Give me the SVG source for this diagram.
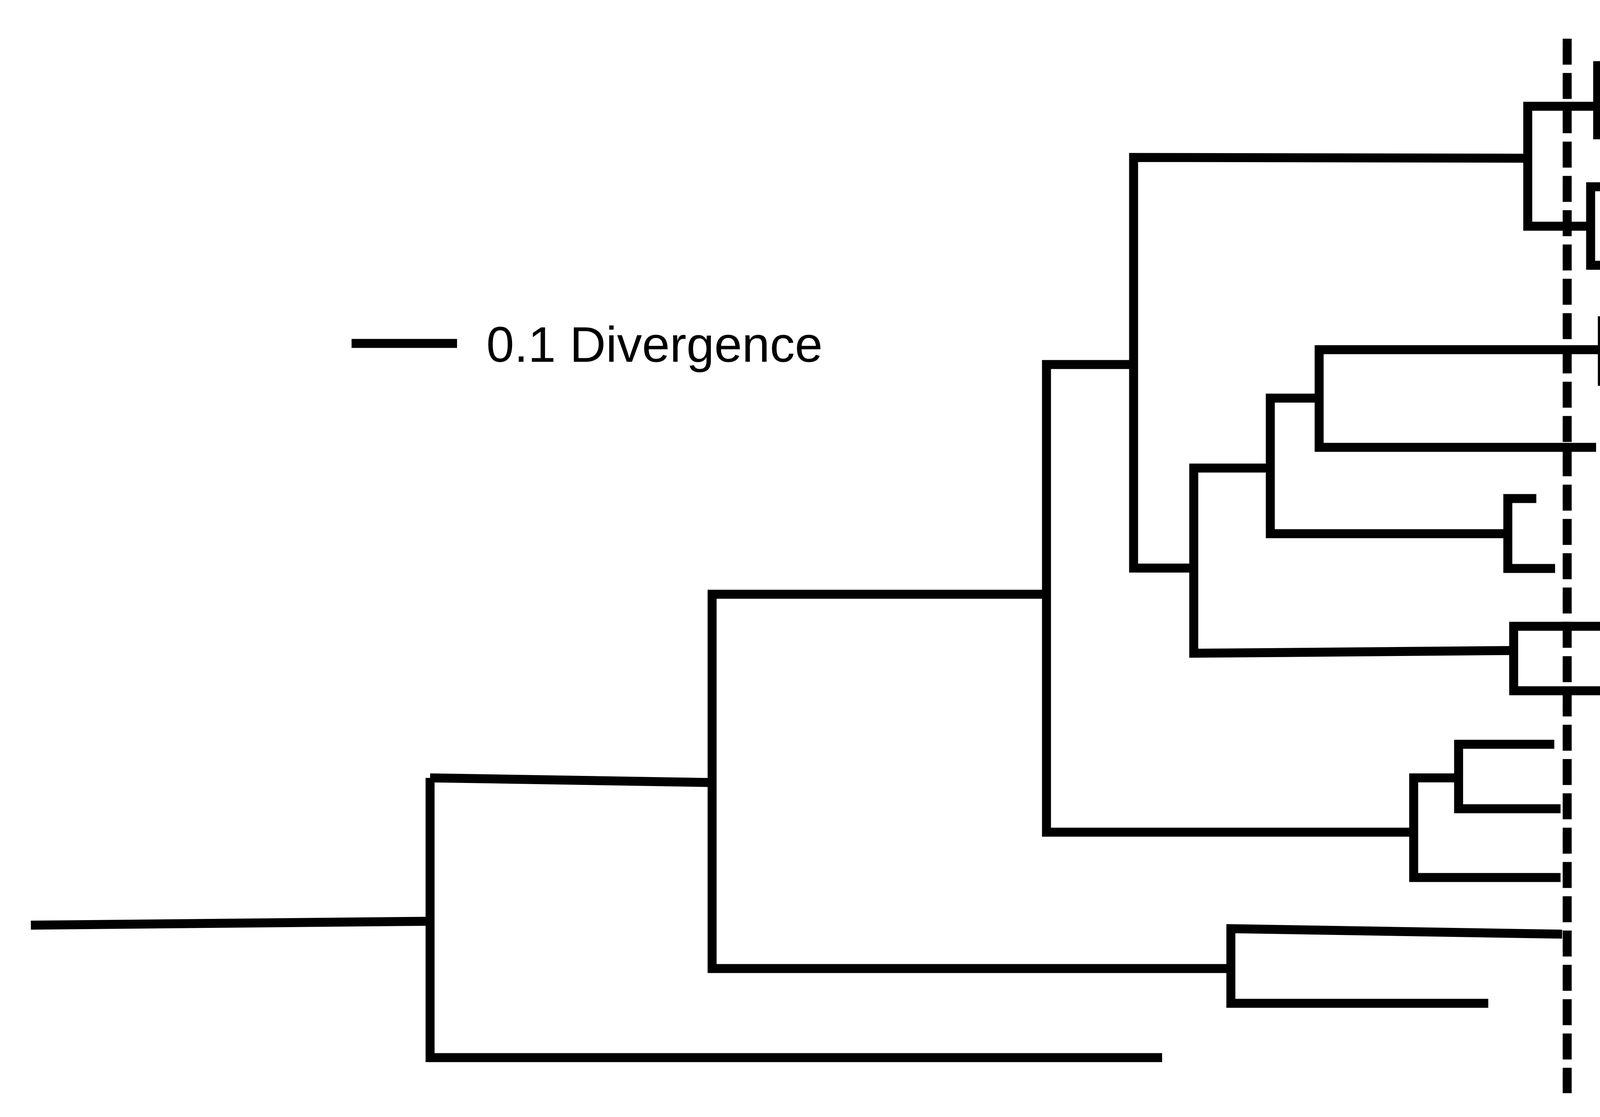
<svg xmlns="http://www.w3.org/2000/svg" width="6153" height="2859" viewBox="0 0 6153 2859">
<style>
.br{fill:none;stroke:#000;stroke-width:23;stroke-linejoin:miter;stroke-linecap:butt}
.bk{fill:none;stroke:#000;stroke-width:17;stroke-linejoin:round;stroke-linecap:butt}
.dash{fill:none;stroke:#000;stroke-width:23;stroke-dasharray:66.5 21.3}
.lb{font-family:"Liberation Sans",Arial,sans-serif;font-size:128px;fill:#000}
.it{font-family:"Liberation Sans",Arial,sans-serif;font-size:128px;font-style:italic;fill:#000}
</style>
<rect width="6153" height="2859" fill="#fff"/>
<g id="connectors">
<line class="br" x1="79" y1="2368" x2="1101" y2="2358"/>
<path class="br" d="M1101,1991 V2707 H2975"/>
<line class="br" x1="1101" y1="1991" x2="1823" y2="2003"/>
<path class="br" d="M2679,1521 H1823 V2479 H3151"/>
<path class="br" d="M2902,933 H2679 V2130 H3619"/>
<path class="br" d="M3911,405 L2902,403 V1454 H3056"/>
<path class="br" d="M3252,1198 H3056 V1672 L3875,1665"/>
<path class="br" d="M3377,1019 H3252 V1366 H3860"/>
<path class="br" d="M4102,895 H3377 V1145 H4086"/>
<path class="br" d="M4213,821 H4102 V976 H4213"/>
<path class="br" d="M3933,1276 H3860 V1455 H3981"/>
<path class="br" d="M4200,1603 H3875 V1768 H4442"/>
<path class="br" d="M4090,272 H3911 V579 H4072"/>
<path class="br" d="M4212,168 H4090 V345 H4180"/>
<path class="br" d="M4156,478 H4072 V679 H4156"/>
<path class="br" d="M3734,1991 H3619 V2246 H3995"/>
<path class="br" d="M3979,1905 H3734 V2070 H3995"/>
<path class="br" d="M3999,2391 L3151,2377 V2568 H3810"/>
<line class="dash" x1="4012" y1="99" x2="4012" y2="2798"/>
</g>
<g id="scale">
<line class="br" x1="900" y1="879" x2="1170" y2="879"/>
<text class="lb" x="1245" y="926">0.1 Divergence</text>
</g>
<g id="leaves">
<g id="n-hsv1"><text class="lb" x="4468" y="234">HSV-1</text></g>
<g id="n-hsv2"><text class="lb" x="4468" y="392">HSV-2</text></g>
<g id="n-sa8"><text class="lb" x="4468" y="550">SA8</text></g>
<g id="n-hvb"><text class="lb" x="4468" y="709">HVB</text></g>
<g id="n-bhv1"><text class="lb" x="4468" y="867">BHV-1</text></g>
<g id="n-bhv5"><text class="lb" x="4468" y="1024">BHV-5</text></g>
<g id="n-prv"><text class="lb" x="4468" y="1182">PRV</text></g>
<g id="n-ehv1"><text class="lb" x="4468" y="1340">EHV-1</text></g>
<g id="n-ehv4"><text class="lb" x="4468" y="1497">EHV-4</text></g>
<g id="n-vzv"><text class="lb" x="4468" y="1655">VZV*</text></g>
<g id="n-svv"><text class="lb" x="4468" y="1813">SVV*</text></g>
<g id="n-mdv1"><text class="lb" x="4468" y="1972">MDV-1</text></g>
<g id="n-mdv2"><text class="lb" x="4468" y="2129">MDV-2</text></g>
<g id="n-hvt"><text class="lb" x="4468" y="2285">HVT</text></g>
<g id="n-iltv"><text class="lb" x="4468" y="2445">ILTV</text></g>
<g id="n-pshv"><text class="lb" x="4468" y="2601">PsHV</text></g>
<g id="n-gthv"><text class="lb" x="4468" y="2759">GTHV</text></g>
</g>
<g id="simplex">
<path class="bk" d="M4873,197 C4935,199 4962,203 4962,222 V446 C4962,458 4966,464 4975,466 C4966,468 4962,474 4962,486 V712 C4962,731 4935,734 4873,736"/>
<path class="bk" d="M4966,466 C4990,462 5010,460 5040,460 H5115 V472 H5040 C5010,472 4990,470 4966,466 Z" style="fill:#000;stroke-width:6"/>
<text class="it" x="5163" y="502">Simplexviruses</text>
</g>
<g id="varicello">
<path class="bk" d="M4906,771 C4968,773 4994,777 4994,796 V1289 C4994,1301 4998,1307 5007,1309 C4998,1311 4994,1317 4994,1329 V1822 C4994,1841 4968,1845 4906,1847"/>
<path class="bk" d="M4998,1309 C5022,1305 5042,1303 5072,1303 H5142 V1315 H5072 C5042,1315 5022,1313 4998,1309 Z" style="fill:#000;stroke-width:6"/>
<text class="it" x="5175" y="1354">Varicelloviruses</text>
</g>
</svg>
